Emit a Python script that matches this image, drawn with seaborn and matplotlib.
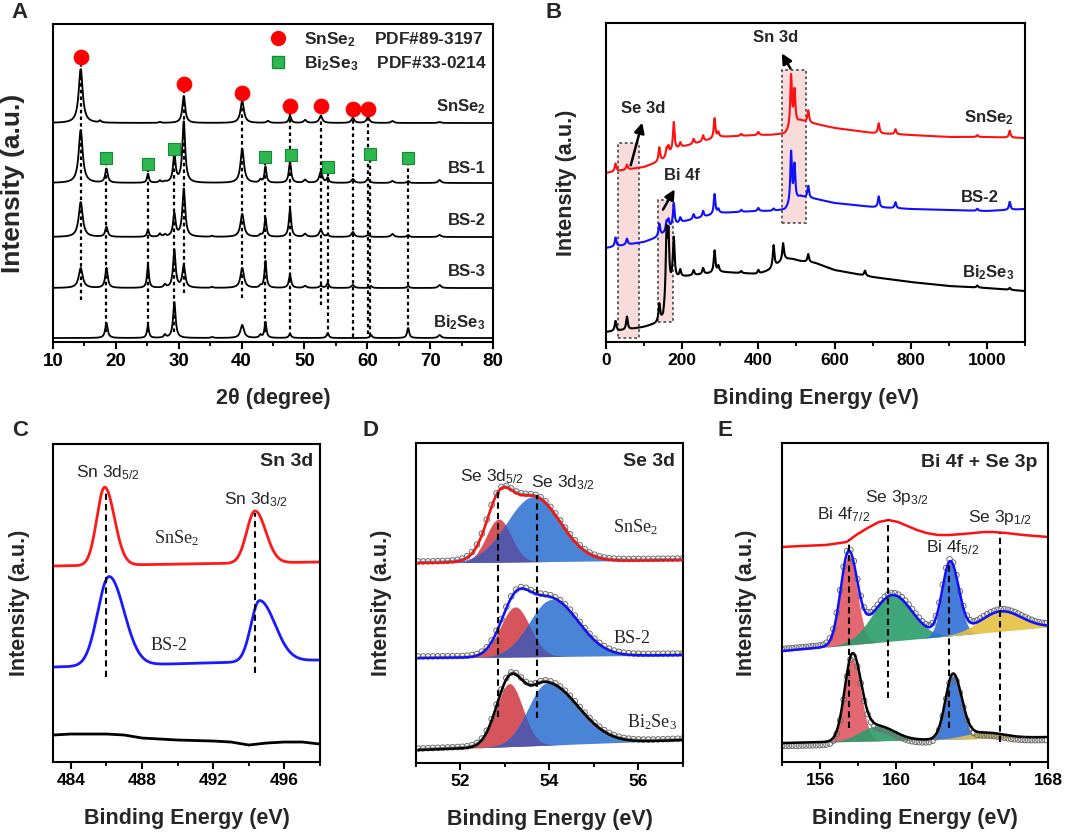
import numpy as np
import matplotlib
matplotlib.use("Agg")
import matplotlib.pyplot as plt
from matplotlib.patches import Rectangle
from matplotlib.lines import Line2D
from matplotlib.ticker import MultipleLocator
import seaborn as sns

# ---------------- A : XRD patterns ----------------
xrd_names = ["SnSe$_2$", "BS-1", "BS-2", "BS-3", "Bi$_2$Se$_3$"]
xrd_offset = [219, 159, 105, 54, 4]
xrd_label_y = [235, 174, 122, 71, 19]
xrd_pos = [14.4, 17.5, 18.5, 25.1, 27.0, 27.8, 29.3, 30.8, 35.3, 40.1, 43.0, 43.8,
           44.2, 47.7, 50.1, 52.6, 53.7, 57.7, 60.1, 60.6, 64.0, 66.5, 71.5]
xrd_hwhm = [0.38, 0.2, 0.24, 0.18, 0.2, 0.2, 0.24, 0.27, 0.2, 0.33, 0.2, 0.19,
            0.27, 0.22, 0.27, 0.3, 0.2, 0.27, 0.27, 0.2, 0.27, 0.2, 0.27]
xrd_h_snse2 = [54, 2, 0, 0, 1, 0, 0, 27, 0, 22, 0, 0, 2, 7, 3, 7, 0, 5, 6, 0, 2, 0, 1]
xrd_h_bs1 = [53, 0, 14, 9, 2, 1, 28, 61, 0, 34, 3, 16, 0, 21, 3, 11, 5, 4, 4, 0, 2, 2, 3]
xrd_h_bs2 = [35, 0, 10, 7, 3, 2, 23, 48, 1, 23, 2, 19, 0, 28, 3, 7, 2, 5, 2, 0, 3, 2, 2]
xrd_h_bs3 = [20, 0, 20, 23, 0, 3, 38, 22, 1, 20, 2, 27, 0, 13, 2, 2, 5, 3, 0, 2, 0, 2, 3]
xrd_h_bi2se3 = [0, 0, 15, 13, 0, 3, 36, 0, 1, 13, 3, 16, 0, 4, 0, 0, 5, 0, 0, 3, 0, 10, 3]

snse2_ref_pos = [14.4, 30.8, 40.1, 47.7, 52.6, 57.7, 60.1]
snse2_ref_y = [285, 258, 249, 236, 236, 233, 233]
snse2_line_top = [278, 250, 241, 229, 229, 226, 226]
snse2_line_bot = [42, 49, 44, 6, 37, 5, 8]
bi2se3_ref_pos = [18.5, 25.1, 29.3, 43.8, 47.8, 53.7, 60.5, 66.5]
bi2se3_ref_y = [184, 178, 193, 185, 187, 175, 188, 184]
bi2se3_line_pos = [18.5, 25.1, 29.3, 43.8, 53.7, 60.5, 66.5]
bi2se3_line_top = [177, 171, 186, 178, 168, 181, 177]
bi2se3_line_bot = [10, 10, 10, 10, 6, 6, 10]

# ---------------- B : XPS survey ----------------
survey_names = ["SnSe$_2$", "BS-2", "Bi$_2$Se$_3$"]
survey_colors = ["#ff1010", "#1010ff", "black"]
survey_label_x = [1070, 1032, 1072]
survey_label_y = [224, 145, 69]
survey_pos = [25, 55, 140, 159, 164, 178, 195, 230, 255, 285, 295, 355, 400, 440,
              465, 486, 495, 531, 680, 716, 760, 975, 1060]
survey_h_snse2 = [8, 5, 14, 8, 8, 28, 5, 5, 6, 20, 5, 2, 3, 0, 0, 52, 34, 12, 0, 10, 5, 2, 7]
survey_h_bs2 = [9, 6, 12, 9, 9, 22, 5, 5, 6, 20, 4, 2, 3, 2, 0, 52, 36, 12, 0, 11, 6, 2, 8]
survey_h_bi2se3 = [10, 13, 17, 65, 55, 40, 7, 5, 6, 22, 6, 2, 4, 22, 17, 0, 0, 8, 5, 0, 0, 2, 2]
survey_bg_e = [0, 50, 100, 130, 150, 158, 175, 200, 300, 400, 430, 470, 490, 510,
               550, 600, 700, 800, 900, 1000, 1100]
survey_bg_snse2 = [169, 172, 175, 179, 182, 184, 191, 195, 205, 207, 207, 208, 215, 221,
                   218, 214, 209, 207, 205, 205, 204]
survey_bg_bs2 = [94, 97, 100, 104, 108, 110, 116, 120, 129, 131, 131, 132, 138, 145,
                 143, 139, 135, 133, 132, 131, 133]
survey_bg_bi2se3 = [10, 12, 15, 18, 22, 38, 62, 65, 70, 68, 72, 83, 83, 81,
                    79, 72, 65, 60, 56, 54, 51]
survey_hwhm = 2.5
box_lo = [31, 137, 463]
box_hi = [87, 177, 526]
box_bottom = [4, 20, 119]
box_top = [199, 142, 272]
arrow_tail = [(63, 174), (146, 130), (488, 271)]
arrow_head = [(97, 222), (184, 155), (458, 291)]
region_text = ["Se 3d", "Bi 4f", "Sn 3d"]
region_text_xy = [(98, 234), (200, 167), (445, 304)]

# ---------------- C : Sn 3d ----------------
c_names = ["SnSe$_2$", "BS-2"]
c_colors = ["#ff1a1a", "#1a1aff"]
c_bg_left = [196, 95]
c_bg_right = [200, 102]
c_center = [[485.9, 494.35], [486.15, 494.6]]
c_height = [[78, 52], [89, 61]]
c_sig_l = [[0.44, 0.47], [0.64, 0.48]]
c_sig_r = [[0.55, 0.60], [0.84, 0.87]]
c_label_xy = [(489.9, 224), (489.5, 117)]
c_black_e = [483, 484, 486, 487, 488, 490, 492, 493, 494, 495, 496, 497, 498]
c_black_y = [27, 28, 28, 27, 24, 22, 21, 20, 17, 19, 20, 20, 18]
c_dash_x = [485.95, 494.35]
c_dash_lo = [85, 89]
c_dash_hi = [272, 249]

# ---------------- D : Se 3d ----------------
d_names = ["SnSe$_2$", "BS-2", "Bi$_2$Se$_3$"]
d_fit_colors = ["#ff1010", "#1010ff", "black"]
d_data_colors = ["#3cc8d8", "#e8e040", "#909090"]
d_bg_left = [200, 105, 13]
d_bg_right = [203, 108, 23]
d_red_c = [52.86, 53.23, 53.10]
d_red_h = [43, 50, 63]
d_red_s = [0.28, 0.33, 0.30]
d_blue_c = [53.64, 54.05, 53.94]
d_blue_h = [65, 57, 62]
d_blue_sl = [0.60, 0.50, 0.42]
d_blue_sr = [0.60, 0.60, 0.70]
d_label_xy = [(55.94, 236), (55.86, 125), (56.3, 41)]
d_dash_x = [52.84, 53.73]
d_dash_lo = [46, 45]
d_dash_hi = [273, 268]

# ---------------- E : Bi 4f + Se 3p ----------------
e_snse2_e = [154.0, 155.0, 156.3, 157.4, 157.9, 158.5, 159.1, 159.6, 160.1, 160.6, 161.1,
             161.6, 162.2, 162.8, 163.5, 164.1, 164.6, 165.1, 165.8, 166.7, 168.0]
e_snse2_y = [215, 216, 217, 220, 227, 234, 240, 242, 240, 236, 232,
             229, 227, 227, 228, 229, 230, 230, 229, 227, 225]
e_bg_left = [111, 19]
e_bg_right = [135, 25]
e_comp_colors = ["#e05862", "#2a9d6b", "#2f6fd6", "#e6c040"]
e_c_bs2 = [157.5, 159.8, 162.85, 165.5]
e_h_bs2 = [90, 46, 73, 20]
e_sl_bs2 = [0.42, 1.05, 0.42, 1.1]
e_sr_bs2 = [0.45, 1.05, 0.45, 1.1]
e_c_bi2se3 = [157.7, 159.0, 163.0, 164.6]
e_h_bi2se3 = [83, 15, 64, 6]
e_sl_bi2se3 = [0.40, 0.9, 0.40, 1.0]
e_sr_bi2se3 = [0.45, 0.9, 0.45, 1.0]
e_dash_x = [157.53, 159.6, 162.79, 165.47]
e_dash_lo = [34, 64, 34, 20]
e_dash_hi = [222, 242, 200, 229]


def lorentz_sum(x, pos, heights, hwhm):
    y = np.zeros_like(x)
    for p, h, w in zip(pos, heights, hwhm):
        y += h / (1 + ((x - p) / w) ** 2)
    return y


def agauss(x, c, h, sl, sr):
    s = np.where(x < c, sl, sr)
    return h * np.exp(-0.5 * ((x - c) / s) ** 2)


sns.set_theme(style="ticks")
plt.rcParams.update({
    "font.family": ["Liberation Sans", "DejaVu Sans"],
    "font.weight": "bold",
    "axes.labelweight": "bold",
    "mathtext.default": "regular",
    "axes.linewidth": 1.5,
    "axes.edgecolor": "black",
    "xtick.color": "black",
    "xtick.direction": "out",
    "xtick.major.size": 5,
    "xtick.minor.size": 3,
    "xtick.major.width": 1.5,
    "xtick.minor.width": 1.3,
    "xtick.major.pad": 3,
})

fig = plt.figure(figsize=(10.65, 8.33), dpi=100)


def style_axis(ax, xlim, ylim, major, minor, xlabel, ylab_x, ylab_size=15.5, tick_size=12.5):
    ax.set_xlim(*xlim)
    ax.set_ylim(*ylim)
    ax.xaxis.set_major_locator(MultipleLocator(major))
    ax.xaxis.set_minor_locator(MultipleLocator(minor))
    ax.set_yticks([])
    ax.tick_params(axis="x", labelsize=tick_size)
    ax.set_xlabel(xlabel, fontsize=15.5)
    ax.set_ylabel("Intensity (a.u.)", fontsize=ylab_size)
    ax.xaxis.set_label_coords(0.5, -0.145)
    ax.yaxis.set_label_coords(ylab_x, 0.5)
    for sp in ax.spines.values():
        sp.set_visible(True)


# ===== panel A =====
axA = fig.add_axes([0.0498, 0.5894, 0.4131, 0.3818])
x_xrd = np.linspace(10, 80, 7001)
xrd_heights = [xrd_h_snse2, xrd_h_bs1, xrd_h_bs2, xrd_h_bs3, xrd_h_bi2se3]
for name, off, ly, hts in zip(xrd_names, xrd_offset, xrd_label_y, xrd_heights):
    y = off + lorentz_sum(x_xrd, xrd_pos, hts, xrd_hwhm)
    sns.lineplot(x=x_xrd, y=y, ax=axA, color="black", lw=1.3)
    axA.text(78.8, ly, name, ha="right", va="center", fontsize=12, fontweight="bold")
axA.vlines(snse2_ref_pos, snse2_line_bot, snse2_line_top, colors="black",
           linestyles=(0, (1.6, 1.4)), lw=1.6, zorder=3)
axA.vlines(bi2se3_line_pos, bi2se3_line_bot, bi2se3_line_top, colors="black",
           linestyles=(0, (1.6, 1.4)), lw=1.6, zorder=3)
sns.scatterplot(x=snse2_ref_pos, y=snse2_ref_y, ax=axA, color="#ff0000", marker="o",
                s=110, edgecolor="#ff0000", zorder=5)
sns.scatterplot(x=bi2se3_ref_pos, y=bi2se3_ref_y, ax=axA, color="#2db84f", marker="s",
                s=80, edgecolor="#168a35", linewidth=0.8, zorder=5)
handles = [Line2D([], [], marker="o", ls="", color="#ff0000", ms=10),
           Line2D([], [], marker="s", ls="", color="#2db84f", mec="#168a35", ms=9)]
axA.legend(handles, ["SnSe$_2$    PDF#89-3197", "Bi$_2$Se$_3$    PDF#33-0214"],
           loc="upper right", frameon=False, prop={"weight": "bold", "size": 12.5},
           handletextpad=0.5, borderaxespad=0.15, labelspacing=0.3, borderpad=0.2)
style_axis(axA, (10, 80), (0, 318), 10, 5, "2θ (degree)", -0.064, ylab_size=19, tick_size=13.5)

# ===== panel B =====
axB = fig.add_axes([0.5690, 0.5894, 0.3934, 0.3830])
x_sv = np.linspace(0, 1100, 4401)
survey_heights = [survey_h_snse2, survey_h_bs2, survey_h_bi2se3]
survey_bgs = [survey_bg_snse2, survey_bg_bs2, survey_bg_bi2se3]
for lo, hi, b, t in zip(box_lo, box_hi, box_bottom, box_top):
    axB.add_patch(Rectangle((lo, b), hi - lo, t - b, facecolor="#f8dcdc",
                            edgecolor="#555555", ls=(0, (1.5, 1.5)), lw=1.3, zorder=0.5))
for name, col, lx, ly, hts, bg in zip(survey_names, survey_colors, survey_label_x,
                                      survey_label_y, survey_heights, survey_bgs):
    y = np.interp(x_sv, survey_bg_e, bg) + lorentz_sum(x_sv, survey_pos, hts,
                                                        [survey_hwhm] * len(survey_pos))
    sns.lineplot(x=x_sv, y=y, ax=axB, color=col, lw=1.5)
    axB.text(lx, ly, name, ha="right", va="center", fontsize=12, fontweight="bold")
for tail, head, txt, txy in zip(arrow_tail, arrow_head, region_text, region_text_xy):
    axB.annotate("", xy=head, xytext=tail,
                 arrowprops=dict(arrowstyle="-|>,head_length=0.5,head_width=0.25",
                                 color="black", lw=1.8))
    axB.text(txy[0], txy[1], txt, ha="center", va="center", fontsize=12, fontweight="bold")
style_axis(axB, (0, 1100), (0, 319), 200, 100, "Binding Energy (eV)", -0.069)

# ===== panel C =====
axC = fig.add_axes([0.0498, 0.0852, 0.2507, 0.3818])
x_c = np.linspace(483, 498, 1501)
for name, col, bl, br, cs, hs, sls, srs, lxy in zip(c_names, c_colors, c_bg_left, c_bg_right,
                                                   c_center, c_height, c_sig_l, c_sig_r,
                                                   c_label_xy):
    y = bl + (br - bl) * (x_c - 483) / 15
    for cc, hh, sl, sr in zip(cs, hs, sls, srs):
        y = y + agauss(x_c, cc, hh, sl, sr)
    sns.lineplot(x=x_c, y=y, ax=axC, color=col, lw=2.0)
    axC.text(lxy[0], lxy[1], name, ha="center", va="center", fontsize=13,
             fontweight="normal", family="Liberation Serif")
sns.lineplot(x=c_black_e, y=c_black_y, ax=axC, color="black", lw=2.0)
axC.vlines(c_dash_x, c_dash_lo, c_dash_hi, colors="black", linestyles=(0, (3, 2)), lw=1.5, zorder=4)
axC.text(486.1, 289, "Sn 3d$_{5/2}$", ha="center", va="center", fontsize=12.5, fontweight="normal")
axC.text(494.4, 262, "Sn 3d$_{3/2}$", ha="center", va="center", fontsize=12.5, fontweight="normal")
axC.text(496.1, 300, "Sn 3d", ha="center", va="center", fontsize=14, fontweight="bold")
style_axis(axC, (483, 498), (0, 318), 4, 2, "Binding Energy (eV)", -0.086)

# ===== panel D =====
axD = fig.add_axes([0.3906, 0.0840, 0.2507, 0.3842])
x_d = np.linspace(51.05, 57, 1191)
for i in range(3):
    base = d_bg_left[i] + (d_bg_right[i] - d_bg_left[i]) * (x_d - 51.05) / 5.95
    red = agauss(x_d, d_red_c[i], d_red_h[i], d_red_s[i], d_red_s[i])
    blue = agauss(x_d, d_blue_c[i], d_blue_h[i], d_blue_sl[i], d_blue_sr[i])
    axD.fill_between(x_d, base, base + red, color="#d6545c", lw=0, zorder=1)
    axD.fill_between(x_d, base, base + blue, color="#4a84d6", lw=0, zorder=1.1)
    axD.fill_between(x_d, base, base + np.minimum(red, blue), color="#5558a8", lw=0, zorder=1.2)
    fit = base + red + blue
    sns.lineplot(x=x_d, y=fit + 1.5, ax=axD, color=d_data_colors[i], lw=1.0, zorder=2)
    sns.scatterplot(x=x_d[::22], y=fit[::22] + 1.5, ax=axD, marker="o", s=16,
                    facecolor="none", edgecolor="#6d6d6d", linewidth=0.7, zorder=2.5)
    sns.lineplot(x=x_d, y=fit, ax=axD, color=d_fit_colors[i], lw=1.8, zorder=3)
    axD.text(d_label_xy[i][0], d_label_xy[i][1], d_names[i], ha="center", va="center",
             fontsize=13, fontweight="normal", family="Liberation Serif")
axD.vlines(d_dash_x, d_dash_lo, d_dash_hi, colors="black", linestyles=(0, (3, 2)), lw=1.5, zorder=4)
axD.text(52.71, 286, "Se 3d$_{5/2}$", ha="center", va="center", fontsize=12.5, fontweight="normal")
axD.text(54.3, 280, "Se 3d$_{3/2}$", ha="center", va="center", fontsize=12.5, fontweight="normal")
axD.text(56.24, 301, "Se 3d", ha="center", va="center", fontsize=14, fontweight="bold")
style_axis(axD, (51, 57), (0, 320), 2, 1, "Binding Energy (eV)", -0.09)

# ===== panel E =====
axE = fig.add_axes([0.7343, 0.0852, 0.2498, 0.3830])
x_e = np.linspace(154, 168, 1401)
sns.lineplot(x=e_snse2_e, y=e_snse2_y, ax=axE, color="#ff1010", lw=1.8)
e_sets = [(e_c_bs2, e_h_bs2, e_sl_bs2, e_sr_bs2, "#1010ff", 2.0),
          (e_c_bi2se3, e_h_bi2se3, e_sl_bi2se3, e_sr_bi2se3, "black", -3.0)]
for i, (cs, hs, sls, srs, fit_col, shift) in enumerate(e_sets):
    base = e_bg_left[i] + (e_bg_right[i] - e_bg_left[i]) * (x_e - 154) / 14
    fit = base.copy()
    order = [1, 3, 0, 2]
    for k in order:
        comp = agauss(x_e, cs[k], hs[k], sls[k], srs[k])
        axE.fill_between(x_e, base, base + comp, color=e_comp_colors[k], alpha=0.9,
                         lw=0, zorder=1 + 0.1 * k)
        fit = fit + comp
    sns.scatterplot(x=x_e[::18], y=fit[::18] + shift, ax=axE, marker="o", s=16,
                    facecolor="none", edgecolor="#6d6d6d", linewidth=0.7, zorder=2.5)
    sns.lineplot(x=x_e, y=fit, ax=axE, color=fit_col, lw=1.8, zorder=3)
axE.vlines(e_dash_x, e_dash_lo, e_dash_hi, colors="black", linestyles=(0, (3, 2)), lw=1.5, zorder=4)
axE.text(157.23, 247, "Bi 4f$_{7/2}$", ha="center", va="center", fontsize=12.5, fontweight="normal")
axE.text(160.04, 264, "Se 3p$_{3/2}$", ha="center", va="center", fontsize=12.5, fontweight="normal")
axE.text(162.98, 214, "Bi 4f$_{5/2}$", ha="center", va="center", fontsize=12.5, fontweight="normal")
axE.text(165.44, 244, "Se 3p$_{1/2}$", ha="center", va="center", fontsize=12.5, fontweight="normal")
axE.text(164.4, 299, "Bi 4f + Se 3p", ha="center", va="center", fontsize=14, fontweight="bold")
style_axis(axE, (154, 168), (0, 319), 4, 2, "Binding Energy (eV)", -0.094)

# panel letters
for letter, px, py in [("A", 20, 13), ("B", 554, 13), ("C", 20, 431), ("D", 370, 431), ("E", 725, 431)]:
    fig.text(px / 1065, 1 - py / 833, letter, ha="center", va="center", fontsize=16, fontweight="bold")

fig.savefig("out.png", dpi=100, facecolor="white")
